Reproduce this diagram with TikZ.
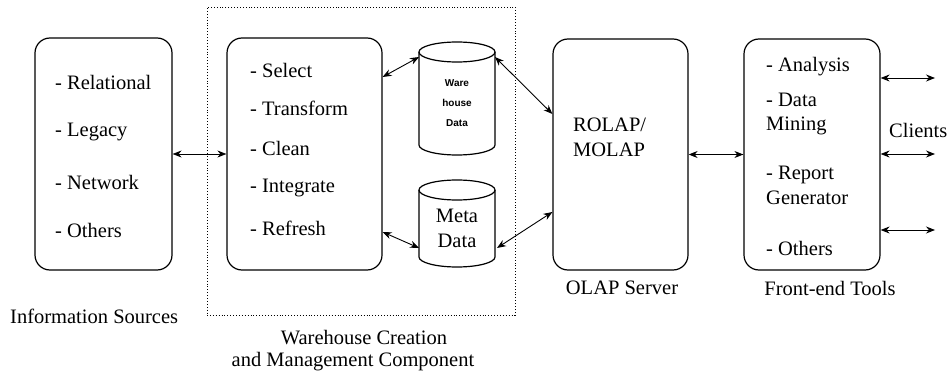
\documentclass[tikz,border=0pt]{standalone}
\usepackage{fontspec}
\setmainfont{Liberation Serif}
\newfontfamily\tnr{Liberation Serif}
\newfontfamily\smallsans{Liberation Sans}
\usetikzlibrary{arrows.meta}
\begin{document}
\begin{tikzpicture}[x=1pt,y=-1pt,
  box/.style={draw, line width=1.2pt, rounded corners=15pt, inner sep=0},
  lbl/.style={font=\tnr\fontsize{20.5}{22}\selectfont, inner sep=0, anchor=west},
  captxt/.style={font=\tnr\fontsize{20.5}{22}\selectfont, inner sep=0},
  cyl/.style={line width=1.2pt},
  conn/.style={line width=0.9pt, {Stealth[length=9pt,width=7pt]}-{Stealth[length=9pt,width=7pt]}},
]
\useasboundingbox (0,0) rectangle (949,374);
% group
\node[draw, dotted, line width=0.9pt, minimum width=308pt, minimum height=308pt, inner sep=0] (grp) at (361,161) {};
% boxes
\node[box, minimum width=137pt, minimum height=232pt] (src) at (103.5,154) {};
\node[box, minimum width=155pt, minimum height=232pt] (wcm) at (304.5,154) {};
\node[box, minimum width=135pt, minimum height=231pt] (olap) at (620.5,154.5) {};
\node[box, minimum width=136pt, minimum height=231pt] (fe) at (812,154.5) {};
% cylinders
\node[minimum width=76pt, minimum height=113pt, inner sep=0] (wh) at (457,98.5) {};
\draw[cyl] (457,52) ellipse [x radius=38pt, y radius=10pt];
\draw[cyl] (419,52) -- (419,145) arc[start angle=180, end angle=360, x radius=38pt, y radius=10pt] -- (495,52);
\node[minimum width=76pt, minimum height=87pt, inner sep=0] (md) at (457,223.5) {};
\draw[cyl] (457,190) ellipse [x radius=38pt, y radius=10pt];
\draw[cyl] (419,190) -- (419,257) arc[start angle=180, end angle=360, x radius=38pt, y radius=10pt] -- (495,190);
\coordinate (wh-l) at (419,57);
\coordinate (wh-r) at (495,57);
\coordinate (md-l) at (419,248);
\coordinate (md-r) at (497,248);
% texts
\node[lbl] at (55,82) {- Relational};
\node[lbl] at (55,132) {- Legacy};
\node[lbl] at (55,182) {- Network};
\node[lbl] at (55,230) {- Others};
\node[lbl] at (250,70) {- Select};
\node[lbl] at (250,108) {- Transform};
\node[lbl] at (250,148) {- Clean};
\node[lbl] at (250,188) {- Integrate};
\node[lbl] at (250,228) {- Refresh};
\node[font=\smallsans\bfseries\fontsize{10}{20}\selectfont, align=center, inner sep=0] at (457,103) {Ware\\house\\Data};
\node[captxt, align=center, font=\tnr\fontsize{20.5}{25}\selectfont] at (457,228) {Meta\\Data};
\node[lbl, align=left, font=\tnr\fontsize{20.5}{25}\selectfont] at (573,137) {ROLAP/\\MOLAP};
\node[lbl] at (766,67) {- Analysis};
\node[lbl] at (766,100) {- Data};
\node[lbl] at (766,126) {Mining};
\node[lbl] at (766,175) {- Report};
\node[lbl] at (766,198) {Generator};
\node[lbl] at (766,248) {- Others};
\node[lbl] at (889,130) {Clients};
\node[lbl] at (10,316) {Information Sources};
\node[captxt] at (364,338) {Warehouse Creation};
\node[captxt] at (353,362) {and Management Component};
\node[captxt] at (622,288) {OLAP Server};
\node[captxt] at (830,288) {Front-end Tools};
% connectors
\coordinate (c1) at (935,78);
\coordinate (c2) at (935,154);
\coordinate (c3) at (935,230);
\draw[conn] (src.east) -- (wcm.west);
\draw[conn] (wcm.east |- 0,77) -- (wh-l);
\draw[conn] (wcm.east |- 0,232) -- (md-l);
\draw[conn] (wh-r) -- (olap.west |- 0,114);
\draw[conn] (md-r) -- (olap.west |- 0,212);
\draw[conn] (olap.east) -- (fe.west);
\draw[conn] (fe.east |- c1) -- (c1);
\draw[conn] (fe.east |- c2) -- (c2);
\draw[conn] (fe.east |- c3) -- (c3);
\end{tikzpicture}
\end{document}
